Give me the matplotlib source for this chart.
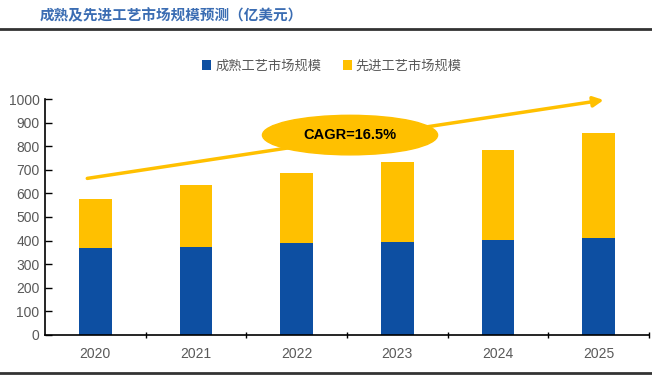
import numpy as np
import matplotlib.pyplot as plt
from matplotlib.patches import Ellipse
from matplotlib.lines import Line2D

plt.rcParams['font.family'] = ['Liberation Sans', 'Noto Sans CJK SC', 'DejaVu Sans']

# data
years = ['2020', '2021', '2022', '2023', '2024', '2025']
mature = [370, 373, 388, 392, 401, 411]
advanced = [208, 263, 300, 340, 382, 446]
series_names = ['成熟工艺市场规模', '先进工艺市场规模']
title = '成熟及先进工艺市场规模预测（亿美元）'
cagr_label = 'CAGR=16.5%'

blue = '#0d4fa2'
yellow = '#ffc000'

fig = plt.figure(figsize=(6.52, 3.8), dpi=100)
ax = fig.add_axes([45 / 652, 1 - 334.7 / 380, 604 / 652, (334.7 - 99.3) / 380])

x = np.arange(len(years))
ax.bar(x, mature, width=0.325, color=blue, label=series_names[0], zorder=2)
ax.bar(x, advanced, width=0.325, bottom=mature, color=yellow,
       label=series_names[1], zorder=2)

ax.set_xlim(-0.5, len(years) - 0.5)
ax.set_ylim(0, 1000)
ax.set_yticks(np.arange(0, 1001, 100))
ax.set_xticks(x)
ax.set_xticklabels(years)
ax.set_xticks(np.arange(0.5, len(years), 1), minor=True)
ax.tick_params(axis='x', which='major', length=0, pad=9, labelsize=10, labelcolor='#595959')
ax.tick_params(axis='x', which='minor', direction='inout', length=5, width=1)
ax.tick_params(axis='y', direction='in', length=5, width=1, pad=4, labelsize=10,
               labelcolor='#595959')
for s in ['top', 'right']:
    ax.spines[s].set_visible(False)
for s in ['left', 'bottom']:
    ax.spines[s].set_linewidth(1.2)

# CAGR arrow and ellipse
ax.annotate('', xy=(5.05, 997), xytext=(-0.08, 664),
            arrowprops=dict(arrowstyle='-|>,head_length=0.6,head_width=0.3',
                            color=yellow, lw=2.5, shrinkA=0, shrinkB=0), zorder=3)
ax.add_patch(Ellipse((2.53, 848), 1.74, 168, color=yellow, zorder=4, clip_on=False))
ax.text(2.53, 848, cagr_label, ha='center', va='center', fontsize=10.5,
        fontweight='bold', color='black', zorder=5)

leg = fig.legend(loc='center', bbox_to_anchor=(332 / 652, 1 - 66 / 380), ncol=2,
                 frameon=False, handlelength=0.7, handleheight=0.7,
                 handletextpad=0.3, columnspacing=1.6,
                 prop={'family': ['Noto Sans CJK SC'], 'size': 9.5})
for t in leg.get_texts():
    t.set_color('#595959')

fig.text(40 / 652, 1 - 15 / 380, title, ha='left', va='center', fontsize=10.5,
         fontweight='bold', color='#3b6db3', family=['Noto Sans CJK SC'])

fig.add_artist(Line2D([0, 1], [1 - 29 / 380] * 2, color='#333333', lw=2))
fig.add_artist(Line2D([0, 1], [1 - 373 / 380] * 2, color='#333333', lw=2))

fig.savefig('out.png', dpi=100)
